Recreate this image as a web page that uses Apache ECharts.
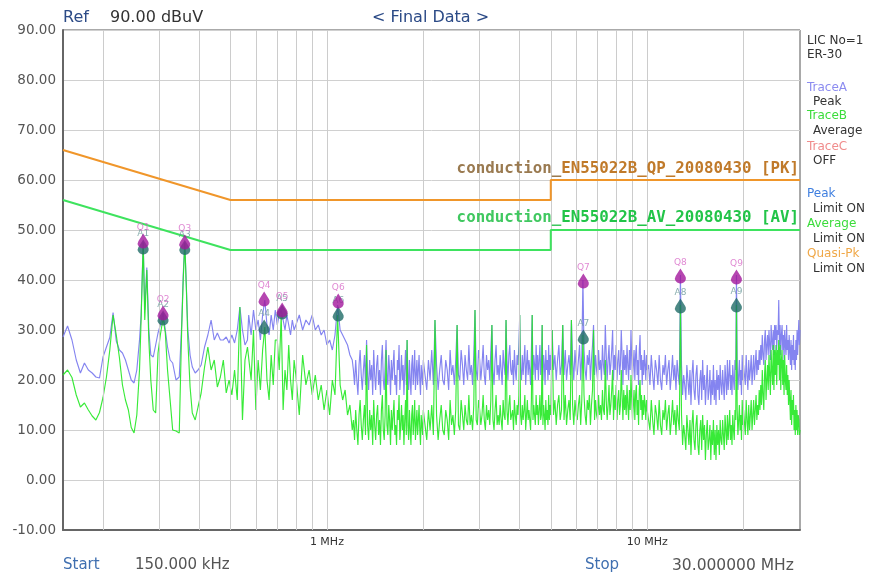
<!DOCTYPE html>
<html>
<head>
<meta charset="utf-8">
<script src="https://cdn.jsdelivr.net/npm/echarts@6/dist/echarts.min.js"></script>
<style>html,body{margin:0;padding:0;background:#fff;}#c{width:872px;height:578px;}</style>
</head>
<body>
<div id="c"></div>
<script>
// ---- frequency points (MHz) and trace values (dBuV) ----
const lowFreq = [0.150,0.155,0.160,0.165,0.170,0.175,0.180,0.185,0.190,0.195,
0.200,0.205,0.210,0.215,0.220,0.225,0.230,0.235,0.240,0.245,
0.250,0.255,0.260,0.263,0.267,0.270,0.274,0.278,0.282,0.287,
0.292,0.297,0.302,0.308,0.313,0.318,0.324,0.330,0.338,0.346,
0.352,0.356,0.360,0.364,0.368,0.374,0.380,0.388,0.396,0.405,
0.415,0.425,0.435,0.445,0.455,0.465,0.475,0.485,0.495,0.505,
0.515,0.525,0.535,0.545,0.555,0.565];
const lowPeak = [28.6,30.8,28.0,24.0,21.4,23.4,22.0,21.4,20.6,20.4,
24.6,26.6,28.5,33.5,27.8,26.0,25.4,24.0,22.0,20.0,
19.4,22.0,28.0,33.0,47.6,34.0,42.5,30.0,25.0,24.6,
27.0,29.4,31.0,33.4,30.0,26.6,24.0,23.4,20.0,20.6,
31.0,41.0,47.6,39.0,30.0,25.0,22.6,21.4,22.0,23.0,
26.6,29.0,32.0,28.0,29.4,28.0,28.0,28.6,27.4,29.0,
27.4,30.0,34.6,30.0,27.0,28.0];
const lowAvg = [21.0,22.0,20.5,17.0,14.6,15.4,14.0,12.8,12.0,13.5,
16.5,20.6,26.0,33.0,29.0,24.5,19.0,16.0,14.0,10.5,
9.4,13.0,22.0,32.0,47.4,32.0,42.0,28.0,20.0,14.0,
13.4,25.4,29.0,32.4,29.4,22.0,16.0,10.0,9.8,9.4,
30.0,40.0,47.4,38.6,28.0,18.6,13.4,12.0,14.6,17.4,
22.6,26.6,22.0,24.0,18.6,20.6,24.0,17.4,20.0,17.0,
22.0,16.0,34.6,12.0,24.0,26.6];

const midFreq = [0.57,0.58,0.59,0.60,0.61,0.62,0.63,0.64,0.65,0.66,
0.67,0.68,0.69,0.70,0.71,0.72,0.73,0.74,0.75,0.76,
0.77,0.78,0.79,0.80,0.82,0.84,0.86,0.88,0.90,0.92,
0.94,0.96,0.98,1.00,1.02,1.04,1.06,1.08,1.10,1.12,
1.14,1.16,1.18,1.20];
const midPeak = [33,29,34,30,32,28,33,36,31,29,
33,30,34,31,33,34,32,30,33,31,
29,32,30,31,33,30,32,31,33,30,
31,29,30,27,28,26,29,35,30,29,
28,27,25,24];
const midAvg = [27,20,30,14,24,18,26,30.6,20,16,
25,19,28,28,22,33,14,22,18,27,
20,16,24,21,13,25,19,22,17,21,
16,19,14,18,13,20,17,33,19,16,
18,13,15,10];

const seg1Freq = [1.21,1.22,1.23,1.24,1.25,1.26,1.27,1.28,1.29,1.30,
1.31,1.32,1.33,1.34,1.35,1.36,1.37,1.38,1.39,1.40,
1.41,1.42,1.43,1.44,1.45,1.46,1.47,1.48,1.49,1.50,
1.51,1.52,1.53,1.54,1.55,1.56,1.57,1.58,1.59,1.60,
1.61,1.62,1.63,1.64,1.65,1.66,1.67,1.68,1.69,1.70,
1.71,1.72,1.73,1.74,1.75,1.76,1.77,1.78,1.79,1.80,
1.81,1.82,1.83,1.84,1.85,1.86,1.87,1.88,1.89,1.90,
1.91,1.92,1.93,1.94,1.95,1.96,1.97,1.98,1.99,2.00];
const seg1Peak = [22,19,24,20,17,23,26,21,18,22,
25,19,28,21,18,24,20,23,17,26,
21,18,23,25,19,22,17,24,27,20,
18,23,28,21,19,25,22,17,24,20,
23,26,19,21,17,24,22,27,18,21,
25,20,23,17,22,26,19,28,21,18,
24,20,17,23,25,19,22,26,18,21,
24,19,22,25,20,17,23,21,19,24];
const seg1Avg = [12,8,14,10,7,13,16,11,8,12,
15,9,27,11,8,14,10,13,7,16,
11,8,13,15,9,12,7,14,17,10,
8,13,26,11,9,15,12,7,14,10,
13,16,9,11,7,14,12,17,8,11,
15,10,13,7,12,16,9,28,11,8,
14,10,7,13,15,9,12,16,8,11,
14,9,12,15,10,7,13,11,9,14];

const seg2Freq = [2.025,2.05,2.075,2.1,2.125,2.15,2.175,2.2,2.225,2.25,
2.275,2.3,2.325,2.35,2.375,2.4,2.425,2.45,2.475,2.5,
2.525,2.55,2.575,2.6,2.625,2.65,2.675,2.7,2.725,2.75,
2.775,2.8,2.825,2.85,2.875,2.9,2.925,2.95,2.975,3.0,
3.025,3.05,3.075,3.1,3.125,3.15,3.175,3.2,3.225,3.25,
3.275,3.3,3.325,3.35,3.375,3.4,3.425,3.45,3.475,3.5,
3.525,3.55,3.575,3.6,3.625,3.65,3.675,3.7,3.725,3.75,
3.775,3.8,3.825,3.85,3.875,3.9,3.925,3.95,3.975,4.0,
4.025,4.05,4.075,4.1,4.125,4.15,4.175,4.2,4.225,4.25,
4.275,4.3,4.325,4.35,4.375,4.4,4.425,4.45,4.475,4.5,
4.525,4.55,4.575,4.6,4.625,4.65,4.675,4.7,4.725,4.75,
4.775,4.8,4.825,4.85,4.875,4.9,4.925,4.95,4.975,5.0];
const seg2Peak = [21,18,24,20,26,19,32,23,18,22,
25,20,19,24,22,18,26,21,23,19,
24,31,21,20,26,23,19,25,22,20,
27,21,23,19,25,34,22,20,26,24,
20,23,27,21,19,25,22,24,20,26,
31,22,19,24,27,21,23,20,25,22,
19,26,23,21,32,24,20,25,27,22,
21,24,19,26,22,20,25,23,27,33,
22,20,25,21,24,27,19,23,26,21,
24,22,19,26,33,21,25,23,20,27,
22,25,20,24,27,21,23,31,20,25,
23,19,26,22,24,20,27,21,25,22];
const seg2Avg = [11,8,14,10,15,9,32,13,8,12,
15,10,9,14,12,8,16,11,13,9,
14,31,11,10,16,13,10,15,12,11,
17,11,13,10,15,34,12,11,16,14,
11,13,17,12,10,15,12,14,11,16,
31,12,10,14,17,11,13,11,15,12,
10,16,13,12,32,14,11,15,17,12,
12,14,10,16,13,11,15,13,17,33,
13,11,15,12,14,17,10,13,16,12,
14,12,10,16,33,12,15,13,11,17,
13,15,11,14,17,12,13,31,11,15,
13,10,16,12,14,11,17,12,15,13];

const seg3Freq = [5.05,5.1,5.15,5.2,5.25,5.3,5.35,5.4,5.45,5.5,
5.55,5.6,5.65,5.7,5.75,5.8,5.85,5.9,5.95,6.0,
6.05,6.1,6.15,6.2,6.25,6.3,6.35,6.4,6.45,6.5,
6.55,6.6,6.65,6.7,6.75,6.8,6.85,6.9,6.95,7.0,
7.05,7.1,7.15,7.2,7.25,7.3,7.35,7.4,7.45,7.5,
7.55,7.6,7.65,7.7,7.75,7.8,7.85,7.9,7.95,8.0,
8.05,8.1,8.15,8.2,8.25,8.3,8.35,8.4,8.45,8.5,
8.55,8.6,8.65,8.7,8.75,8.8,8.85,8.9,8.95,9.0,
9.05,9.1,9.15,9.2,9.25,9.3,9.35,9.4,9.45,9.5,
9.55,9.6,9.65,9.7,9.75,9.8,9.85,9.9,9.95,10.0];
const seg3Peak = [30,22,25,20,24,27,21,23,31,21,
26,20,23,25,21,32,24,20,26,22,
21,24,27,20,25,40,26,22,20,25,
23,26,20,24,27,31,21,25,22,20,
26,22,24,20,27,23,21,31,25,20,
24,27,21,23,26,30,20,25,22,27,
20,24,26,21,23,30,25,19,26,22,
25,21,27,23,20,26,22,30,24,20,
23,26,20,25,27,21,24,19,26,29,
22,25,19,24,21,26,23,20,25,22];
const seg3Avg = [30,13,16,11,15,17,12,14,31,12,
17,11,14,16,12,32,15,11,16,13,
12,15,17,11,16,29,17,13,11,16,
14,17,11,15,18,30,12,16,13,12,
17,13,15,12,18,14,13,24,16,12,
15,19,13,15,18,22,12,17,14,19,
12,16,18,13,15,22,17,12,18,14,
17,13,19,15,12,18,14,21,16,12,
15,18,12,17,19,13,16,11,18,20,
14,17,12,16,13,17,15,12,16,14];

const seg4Freq = [10.1,10.2,10.3,10.4,10.5,10.6,10.7,10.8,10.9,11.0,
11.1,11.2,11.3,11.4,11.5,11.6,11.7,11.8,11.9,12.0,
12.1,12.2,12.3,12.4,12.5,12.6,12.7,12.8,12.9,13.0,
13.1,13.2,13.3,13.4,13.5,13.6,13.7,13.8,13.9,14.0,
14.1,14.2,14.3,14.4,14.5,14.6,14.7,14.8,14.9,15.0,
15.1,15.2,15.3,15.4,15.5,15.6,15.7,15.8,15.9,16.0,
16.1,16.2,16.3,16.4,16.5,16.6,16.7,16.8,16.9,17.0,
17.1,17.2,17.3,17.4,17.5,17.6,17.7,17.8,17.9,18.0,
18.1,18.2,18.3,18.4,18.5,18.6,18.7,18.8,18.9,19.0,
19.1,19.2,19.3,19.4,19.5,19.6,19.7,19.8,19.9,20.0];
const seg4Peak = [23,19,25,21,18,24,22,19,25,20,
18,23,21,25,19,22,24,18,21,25,
20,23,18,24,21,19,41,23,17,21,
19,16,23,20,17,22,15,21,24,18,
16,21,23,17,15,20,22,16,24,18,
21,15,19,23,16,18,22,15,20,17,
23,16,20,15,22,18,21,16,23,19,
17,22,19,16,23,20,17,24,18,21,
24,18,21,17,23,20,18,24,22,41,
23,18,21,24,19,22,17,25,20,23];
const seg4Avg = [14,10,16,12,9,15,13,10,16,11,
9,14,12,16,10,13,15,9,12,16,
11,14,9,15,12,10,35,13,7,11,
9,6,13,10,7,12,5,11,14,8,
6,11,13,7,5,10,12,6,13,8,
11,4,9,12,6,8,11,4,10,7,
12,5,10,4,11,7,10,5,12,8,
7,12,9,6,13,10,7,13,8,11,
14,8,11,7,13,10,8,14,12,35,
14,9,12,15,10,13,8,16,11,14];

const seg5Freq = [20.125,20.25,20.375,20.5,20.625,20.75,20.875,21.0,21.125,21.25,
21.375,21.5,21.625,21.75,21.875,22.0,22.125,22.25,22.375,22.5,
22.625,22.75,22.875,23.0,23.125,23.25,23.375,23.5,23.625,23.75,
23.875,24.0,24.125,24.25,24.375,24.5,24.625,24.75,24.875,25.0,
25.125,25.25,25.375,25.5,25.625,25.75,25.875,26.0,26.125,26.25,
26.375,26.5,26.625,26.75,26.875,27.0,27.125,27.25,27.375,27.5,
27.625,27.75,27.875,28.0,28.125,28.25,28.375,28.5,28.625,28.75,
28.875,29.0,29.125,29.25,29.375,29.5,29.625,29.75,29.875,30.0];
const seg5Peak = [23,19,25,21,18,24,20,22,25,19,
22,25,20,23,26,21,24,22,26,23,
27,24,29,25,23,28,30,24,27,29,
25,30,27,24,31,28,26,30,25,31,
28,31,26,30,29,36,27,31,25,29,
31,26,29,24,30,27,25,31,26,28,
24,29,26,23,28,22,27,24,29,23,
26,22,28,24,30,25,29,32,27,30];
const seg5Avg = [14,9,16,12,9,15,10,13,16,10,
13,16,11,14,17,12,15,13,18,14,
19,15,22,17,14,21,24,16,20,23,
18,25,21,17,26,22,19,27,18,26,
21,27,19,26,23,28,20,27,18,24,
26,19,24,17,25,20,18,23,17,21,
15,20,16,12,18,11,16,13,17,10,
14,9,15,10,14,9,13,12,9,10];

// limit lines
const qpLimit = [[0.15,66],[0.5,56],[5,56],[5,60],[30,60]];
const avLimit = [[0.15,56],[0.5,46],[5,46],[5,50],[30,50]];

// markers
const qpMarkers = [['Q1',0.267,47.8],['Q2',0.308,33.4],['Q3',0.360,47.6],['Q4',0.637,36.2],['Q5',0.725,34.0],
                   ['Q6',1.085,35.8],['Q7',6.32,39.8],['Q8',12.7,40.8],['Q9',19.0,40.6]];
const avMarkers = [['A1',0.267,46.6],['A2',0.308,32.4],['A3',0.360,46.5],['A4',0.637,30.6],['A5',0.725,33.6],
                   ['A6',1.085,33.2],['A7',6.32,28.6],['A8',12.7,34.8],['A9',19.0,35.0]];

// vertical grid frequencies
const gridFreqs = [0.2,0.3,0.4,0.5,0.6,0.7,0.8,0.9,1,2,3,4,5,6,7,8,9,10,20];

const freqs = [].concat(lowFreq, midFreq, seg1Freq, seg2Freq, seg3Freq, seg4Freq, seg5Freq);
const peakVals = [].concat(lowPeak, midPeak, seg1Peak, seg2Peak, seg3Peak, seg4Peak, seg5Peak);
const avgVals = [].concat(lowAvg, midAvg, seg1Avg, seg2Avg, seg3Avg, seg4Avg, seg5Avg);

const chart = echarts.init(document.getElementById('c'), null, {renderer:'canvas'});
const dropPath = 'path://M5,0 L9.3,7.5 A5,5 0 1,1 0.7,7.5 Z';

function legendText(text, cy, color, indent) {
  return {type:'text', left: indent ? 813 : 807, top: cy - 7,
          style:{text:text, fill:color, font:'12px "DejaVu Sans"'}};
}

const option = {
  animation:false,
  backgroundColor:'#ffffff',
  grid:{left:63, right:72, top:30, bottom:48, show:true, borderColor:'#555', borderWidth:1, backgroundColor:'#fff'},
  xAxis:{
    type:'log', logBase:10, min:0.15, max:30,
    axisLine:{show:true, onZero:false, lineStyle:{color:'#666', width:2}},
    axisTick:{show:false},
    splitLine:{show:false},
    axisLabel:{
      color:'#333', fontSize:11, margin:7, fontFamily:'DejaVu Sans',
      showMinLabel:false, showMaxLabel:false,
      formatter:function(v){
        const lg = Math.log10(v);
        if (Math.abs(lg - Math.round(lg)) < 1e-6) {
          if (Math.round(lg) === 0) return '1 MHz';
          if (Math.round(lg) === 1) return '10 MHz';
        }
        return '';
      }
    }
  },
  yAxis:{
    type:'value', min:-10, max:90, interval:10,
    axisLine:{show:true, lineStyle:{color:'#666', width:2}},
    axisTick:{show:false},
    splitLine:{lineStyle:{color:'#d0d0d0', width:1}},
    axisLabel:{formatter:function(v){return v.toFixed(2);}, color:'#555', fontSize:13.5, margin:7, fontFamily:'DejaVu Sans'}
  },
  graphic:[
    {type:'text', left:63, top:10, style:{text:'Ref', fill:'#2b4a86', font:'16px "DejaVu Sans"'}},
    {type:'text', left:110, top:10, style:{text:'90.00 dBuV', fill:'#333', font:'16px "DejaVu Sans"'}},
    {type:'text', left:372, top:10, style:{text:'< Final Data >', fill:'#2b4a86', font:'16px "DejaVu Sans"'}},
    {type:'text', left:63, top:558, style:{text:'Start', fill:'#3f6fb0', font:'15px "DejaVu Sans"'}},
    {type:'text', left:135, top:558, style:{text:'150.000 kHz', fill:'#555', font:'15px "DejaVu Sans"'}},
    {type:'text', left:585, top:558, style:{text:'Stop', fill:'#3f6fb0', font:'15px "DejaVu Sans"'}},
    {type:'text', left:672, top:558, style:{text:'30.000000 MHz', fill:'#555', font:'15.5px "DejaVu Sans"'}},
    legendText('LIC No=1', 42, '#333', false),
    legendText('ER-30', 56, '#333', false),
    legendText('TraceA', 89, '#8c8cf0', false),
    legendText('Peak', 103, '#333', true),
    legendText('TraceB', 117, '#3bdc3b', false),
    legendText('Average', 132, '#333', true),
    legendText('TraceC', 148, '#f08c8c', false),
    legendText('OFF', 162, '#333', true),
    legendText('Peak', 195, '#3f7fe0', false),
    legendText('Limit ON', 210, '#333', true),
    legendText('Average', 225, '#3bdc3b', false),
    legendText('Limit ON', 240, '#333', true),
    legendText('Quasi-Pk', 255, '#f0a848', false),
    legendText('Limit ON', 270, '#333', true)
  ],
  series:[
    {
      type:'line', data:[], silent:true, z:1,
      markLine:{silent:true, symbol:'none', label:{show:false},
        lineStyle:{color:'#cccccc', type:'solid', width:1},
        data: gridFreqs.map(function(f){return {xAxis:f};})}
    },
    {
      name:'TraceA', type:'line', symbol:'none', z:3,
      lineStyle:{color:'#8484f0', width:1.15},
      data: freqs.map(function(f,i){return [f, peakVals[i]];})
    },
    {
      name:'TraceB', type:'line', symbol:'none', z:4,
      lineStyle:{color:'#22e822', width:1.15, opacity:0.9},
      data: freqs.map(function(f,i){return [f, avgVals[i]];})
    },
    {
      name:'QP limit', type:'line', symbol:'none', z:5,
      lineStyle:{color:'#f0962a', width:2},
      data: qpLimit,
      markPoint:{symbol:'circle', symbolSize:0, silent:true,
        data:[{coord:[30,60]}],
        label:{show:true, position:[0,0], align:'right', verticalAlign:'bottom', offset:[-1,-3],
          formatter:'{a|conduction_}{b|EN55022B_QP_20080430 [PK]}',
          rich:{a:{color:'#9a7a50', fontWeight:'bold', fontSize:15.8, fontFamily:'DejaVu Sans Mono'},
                b:{color:'#c07a2a', fontWeight:'bold', fontSize:15.8, fontFamily:'DejaVu Sans Mono'}}}}
    },
    {
      name:'AV limit', type:'line', symbol:'none', z:5,
      lineStyle:{color:'#3ee35e', width:2},
      data: avLimit,
      markPoint:{symbol:'circle', symbolSize:0, silent:true,
        data:[{coord:[30,50]}],
        label:{show:true, position:[0,0], align:'right', verticalAlign:'bottom', offset:[-1,-4],
          formatter:'{a|conduction_}{b|EN55022B_AV_20080430 [AV]}',
          rich:{a:{color:'#40c860', fontWeight:'bold', fontSize:15.8, fontFamily:'DejaVu Sans Mono'},
                b:{color:'#22c448', fontWeight:'bold', fontSize:15.8, fontFamily:'DejaVu Sans Mono'}}}}
    },
    {
      name:'AV markers', type:'scatter', symbol:dropPath, symbolSize:[11,15], z:6,
      itemStyle:{color:'#1f6b66'},
      label:{show:true, position:'top', distance:1, formatter:'{b}', color:'#6a9a9a', fontSize:9, fontFamily:'DejaVu Sans'},
      data: avMarkers.map(function(m){return {name:m[0], value:[m[1], m[2]]};})
    },
    {
      name:'QP markers', type:'scatter', symbol:dropPath, symbolSize:[11,15], z:7,
      itemStyle:{color:'#a3189c'},
      label:{show:true, position:'top', distance:1, formatter:'{b}', color:'#d86cc8', fontSize:9, fontFamily:'DejaVu Sans'},
      data: qpMarkers.map(function(m){return {name:m[0], value:[m[1], m[2]]};})
    }
  ]
};
chart.setOption(option);
</script>
</body>
</html>
